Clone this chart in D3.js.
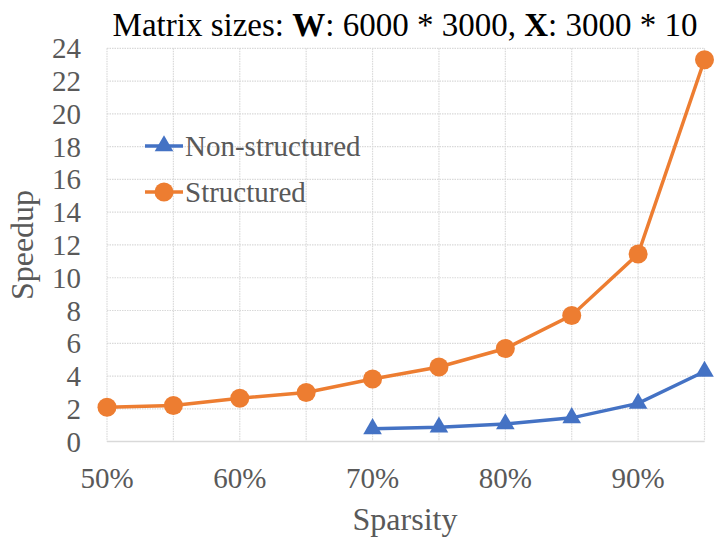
<!DOCTYPE html>
<html>
<head>
<meta charset="utf-8">
<script src="https://cdn.jsdelivr.net/npm/d3@7"></script>
<style>
body { margin: 0; background: #fff; }
text { font-family: "Liberation Serif", "Times New Roman", serif; }
</style>
</head>
<body>
<script>
var sparsity = [50, 55, 60, 65, 70, 75, 80, 85, 90, 95];
var structured = [2.1, 2.2, 2.65, 3.0, 3.82, 4.55, 5.68, 7.7, 11.45, 23.3];
var nonSparsity = [70, 75, 80, 85, 90, 95];
var nonStructured = [0.78, 0.88, 1.08, 1.45, 2.33, 4.28];
var xTickLabels = ["50%", "60%", "70%", "80%", "90%"];
var yTicks = [0, 2, 4, 6, 8, 10, 12, 14, 16, 18, 20, 22, 24];

var width = 714, height = 540;
var plotLeft = 107, plotRight = 704.5, plotTop = 48.3, plotBottom = 441.6;

var x = d3.scaleLinear().domain([50, 95]).range([plotLeft, plotRight]);
var y = d3.scaleLinear().domain([0, 24]).range([plotBottom, plotTop]);

var svg = d3.select("body").append("svg")
	.attr("width", width)
	.attr("height", height);

// GRID
svg.append("g")
	.selectAll("line")
	.data(sparsity)
	.enter().append("line")
	.attr("x1", function(d) {return x(d);})
	.attr("x2", function(d) {return x(d);})
	.attr("y1", plotTop)
	.attr("y2", plotBottom)
	.attr("stroke", "#d9d9d9")
	.attr("stroke-width", 1.2)
	.attr("stroke-dasharray", "1.5,1");

svg.append("g")
	.selectAll("line")
	.data(yTicks.slice(1))
	.enter().append("line")
	.attr("x1", plotLeft)
	.attr("x2", plotRight)
	.attr("y1", function(d) {return y(d);})
	.attr("y2", function(d) {return y(d);})
	.attr("stroke", "#d9d9d9")
	.attr("stroke-width", 1.2)
	.attr("stroke-dasharray", "1.5,1");

svg.append("line")
	.attr("x1", plotLeft)
	.attr("x2", plotRight)
	.attr("y1", y(0))
	.attr("y2", y(0))
	.attr("stroke", "#d9d9d9")
	.attr("stroke-width", 1.5);

// AXIS LABELS
svg.append("g")
	.selectAll("text")
	.data(yTicks)
	.enter().append("text")
	.attr("x", 81)
	.attr("y", function(d) {return y(d) + 10;})
	.attr("text-anchor", "end")
	.style("font-size", "29px")
	.style("fill", "#595959")
	.text(function(d) {return d;});

svg.append("g")
	.selectAll("text")
	.data(xTickLabels)
	.enter().append("text")
	.attr("x", function(d) {return x(parseFloat(d));})
	.attr("y", 488)
	.attr("text-anchor", "middle")
	.style("font-size", "29px")
	.style("fill", "#595959")
	.text(function(d) {return d;});

svg.append("text")
	.attr("x", 405)
	.attr("y", 530)
	.attr("text-anchor", "middle")
	.style("font-size", "32px")
	.style("fill", "#595959")
	.text("Sparsity");

svg.append("text")
	.attr("transform", "translate(33,245) rotate(-90)")
	.attr("text-anchor", "middle")
	.style("font-size", "32px")
	.style("fill", "#595959")
	.text("Speedup");

// TITLE
var title = svg.append("text")
	.attr("x", 405)
	.attr("y", 36)
	.attr("text-anchor", "middle")
	.style("font-size", "33px")
	.style("fill", "#000");
title.append("tspan").text("Matrix sizes: ");
title.append("tspan").style("font-weight", "bold").text("W");
title.append("tspan").text(": 6000 * 3000, ");
title.append("tspan").style("font-weight", "bold").text("X");
title.append("tspan").text(": 3000 * 10");

// LINES
var orange = "#ed7d31", blue = "#4472c4";
var line = d3.line()
	.x(function(d) {return x(d[0]);})
	.y(function(d) {return y(d[1]);});

var sData = sparsity.map(function(d, i) {return [d, structured[i]];});
var nData = nonSparsity.map(function(d, i) {return [d, nonStructured[i]];});

svg.append("path")
	.datum(sData)
	.attr("d", line)
	.attr("fill", "none")
	.attr("stroke", orange)
	.attr("stroke-width", 3.5);

svg.append("path")
	.datum(nData)
	.attr("d", line)
	.attr("fill", "none")
	.attr("stroke", blue)
	.attr("stroke-width", 3.5);

svg.append("g")
	.selectAll("circle")
	.data(sData)
	.enter().append("circle")
	.attr("cx", function(d) {return x(d[0]);})
	.attr("cy", function(d) {return y(d[1]);})
	.attr("r", 9.5)
	.attr("fill", orange);

var tri = d3.symbol().type(d3.symbolTriangle).size(150);
svg.append("g")
	.selectAll("path")
	.data(nData)
	.enter().append("path")
	.attr("d", tri)
	.attr("transform", function(d) {return "translate(" + x(d[0]) + "," + y(d[1]) + ")";})
	.attr("fill", blue);

// LEGEND
var legend = [["Non-structured", blue, 146], ["Structured", orange, 192]];
legend.forEach(function(l, i) {
	svg.append("line")
		.attr("x1", 145).attr("x2", 183)
		.attr("y1", l[2]).attr("y2", l[2])
		.attr("stroke", l[1])
		.attr("stroke-width", 3.5);
	if (i == 0) {
		svg.append("path")
			.attr("d", tri)
			.attr("transform", "translate(164," + l[2] + ")")
			.attr("fill", l[1]);
	} else {
		svg.append("circle")
			.attr("cx", 164).attr("cy", l[2])
			.attr("r", 9.5)
			.attr("fill", l[1]);
	}
	svg.append("text")
		.attr("x", 185)
		.attr("y", l[2] + 10)
		.style("font-size", "29px")
		.style("fill", "#595959")
		.text(l[0]);
});
</script>
</body>
</html>
